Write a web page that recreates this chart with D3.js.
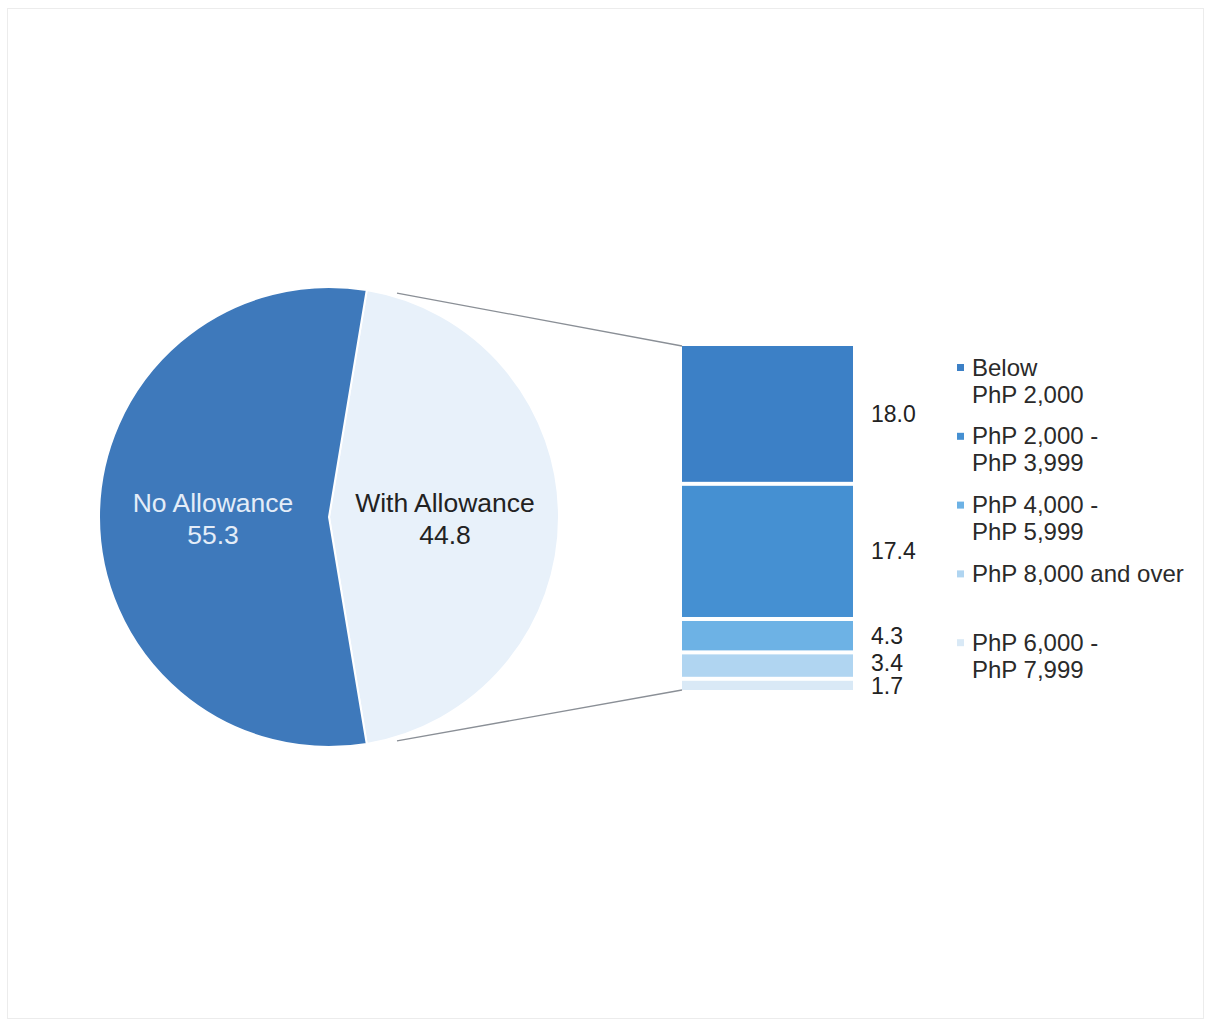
<!DOCTYPE html>
<html lang="en">
<head>
    <meta charset="UTF-8">
    <title>Allowance pie of bar</title>

    <script src="https://d3js.org/d3.v7.min.js"></script>

    <style>
        body {
            margin: 0;
            background: #fff;
        }

        svg text {
            font-family: "Liberation Sans", Arial, sans-serif;
        }
    </style>
</head>
<body>

    <svg id="chart"></svg>

    <script>

        // pie: share of students with / without allowance
        const pieLabels = ["With Allowance", "No Allowance"];
        const pieValues = [44.8, 55.3];
        const pieColors = ["#e8f1fa", "#3e79bb"];
        const pieTextColors = ["#222222", "#e4edf8"];

        // bar: breakdown of "With Allowance", top to bottom
        const barCategories = ["Below PhP 2,000", "PhP 2,000 - PhP 3,999", "PhP 4,000 - PhP 5,999",
            "PhP 8,000 and over", "PhP 6,000 - PhP 7,999"];
        const barValues = [18.0, 17.4, 4.3, 3.4, 1.7];
        const barColors = ["#3c80c6", "#4590d2", "#6db2e5", "#b0d5f1", "#d9e9f6"];

        // legend lines (wrapped as in the original)
        const legendLines = [
            ["Below", "PhP 2,000"],
            ["PhP 2,000 -", "PhP 3,999"],
            ["PhP 4,000 -", "PhP 5,999"],
            ["PhP 8,000 and over"],
            ["PhP 6,000 -", "PhP 7,999"]
        ];

        const width = 1207;
        const height = 1021;

        const svg = d3.select("#chart")
            .attr("width", width)
            .attr("height", height);

        // faint frame of the scanned page
        svg.append("rect")
            .attr("x", 7.5).attr("y", 8.5)
            .attr("width", 1196).attr("height", 1010)
            .attr("fill", "none")
            .attr("stroke", "#ececec");

        // ---- pie ----
        const cx = 329, cy = 517, r = 230;
        const withShare = pieValues[0] / d3.sum(pieValues);
        const start = Math.PI / 2 - Math.PI * withShare;

        const pie = d3.pie().sort(null)
            .startAngle(start)
            .endAngle(start + 2 * Math.PI);
        const arcs = pie(pieValues);
        const arc = d3.arc().innerRadius(0).outerRadius(r);

        const pg = svg.append("g").attr("transform", `translate(${cx},${cy})`);

        pg.selectAll("path")
            .data(arcs)
            .enter()
            .append("path")
            .attr("d", arc)
            .attr("fill", (d, i) => pieColors[i])
            .attr("stroke", "#fff")
            .attr("stroke-width", 2)
            .attr("stroke-linejoin", "miter");

        const labelPos = [[116, -14], [-116, -14]];
        pg.selectAll("text.name")
            .data(arcs)
            .enter()
            .append("text")
            .attr("class", "name")
            .attr("x", (d, i) => labelPos[i][0])
            .attr("y", (d, i) => labelPos[i][1])
            .attr("text-anchor", "middle")
            .attr("dominant-baseline", "central")
            .attr("font-size", 26.5)
            .attr("fill", (d, i) => pieTextColors[i])
            .text((d, i) => pieLabels[i]);

        pg.selectAll("text.val")
            .data(arcs)
            .enter()
            .append("text")
            .attr("class", "val")
            .attr("x", (d, i) => labelPos[i][0])
            .attr("y", (d, i) => labelPos[i][1] + 32)
            .attr("text-anchor", "middle")
            .attr("dominant-baseline", "central")
            .attr("font-size", 26.5)
            .attr("fill", (d, i) => pieTextColors[i])
            .text(d => d.data.toFixed(1));

        // ---- stacked bar ----
        const barX = 682, barW = 171, barTop = 346, barBottom = 694, gap = 4;
        const y = d3.scaleLinear()
            .domain([0, d3.sum(barValues)])
            .range([barTop, barBottom]);

        const stacked = [];
        let acc = 0;
        barValues.forEach((v, i) => {
            stacked.push({v: v, y0: acc, y1: acc + v, i: i});
            acc += v;
        });

        // connector lines from the pie to the bar
        const a1 = arcs[0].startAngle + 0.13, a2 = arcs[0].endAngle - 0.13;
        const lines = [
            [cx + (r + 4) * Math.sin(a1), cy - (r + 4) * Math.cos(a1), barX, y(0)],
            [cx + (r + 4) * Math.sin(a2), cy - (r + 4) * Math.cos(a2), barX, y(acc) - gap]
        ];
        svg.selectAll("line.conn")
            .data(lines)
            .enter()
            .append("line")
            .attr("class", "conn")
            .attr("x1", d => d[0]).attr("y1", d => d[1])
            .attr("x2", d => d[2]).attr("y2", d => d[3])
            .attr("stroke", "#8a8f96")
            .attr("stroke-width", 1.3);

        svg.selectAll("rect.seg")
            .data(stacked)
            .enter()
            .append("rect")
            .attr("class", "seg")
            .attr("x", barX)
            .attr("width", barW)
            .attr("y", d => y(d.y0))
            .attr("height", d => y(d.y1) - y(d.y0) - gap)
            .attr("fill", d => barColors[d.i]);

        // small segments get their labels nudged apart
        const labelNudge = [0, 0, 0, -3, 1];
        svg.selectAll("text.seglabel")
            .data(stacked)
            .enter()
            .append("text")
            .attr("class", "seglabel")
            .attr("x", 871)
            .attr("y", d => (y(d.y0) + y(d.y1)) / 2 - gap / 2 + labelNudge[d.i])
            .attr("dominant-baseline", "central")
            .attr("font-size", 23)
            .attr("fill", "#222")
            .text(d => d.v.toFixed(1));

        // ---- legend ----
        const lg = svg.append("g").attr("transform", "translate(957,367)");
        const item = lg.selectAll("g")
            .data(barCategories)
            .enter()
            .append("g")
            .attr("transform", (d, i) => `translate(0,${i * 68.8})`);

        item.append("rect")
            .attr("x", 0).attr("y", -3)
            .attr("width", 7).attr("height", 7)
            .attr("fill", (d, i) => barColors[i]);

        item.each(function(d, i) {
            d3.select(this).selectAll("text")
                .data(legendLines[i])
                .enter()
                .append("text")
                .attr("x", 15)
                .attr("y", (t, j) => j * 27)
                .attr("dominant-baseline", "central")
                .attr("font-size", 24)
                .attr("fill", "#2a2a2a")
                .text(t => t);
        });

    </script>

</body>
</html>
